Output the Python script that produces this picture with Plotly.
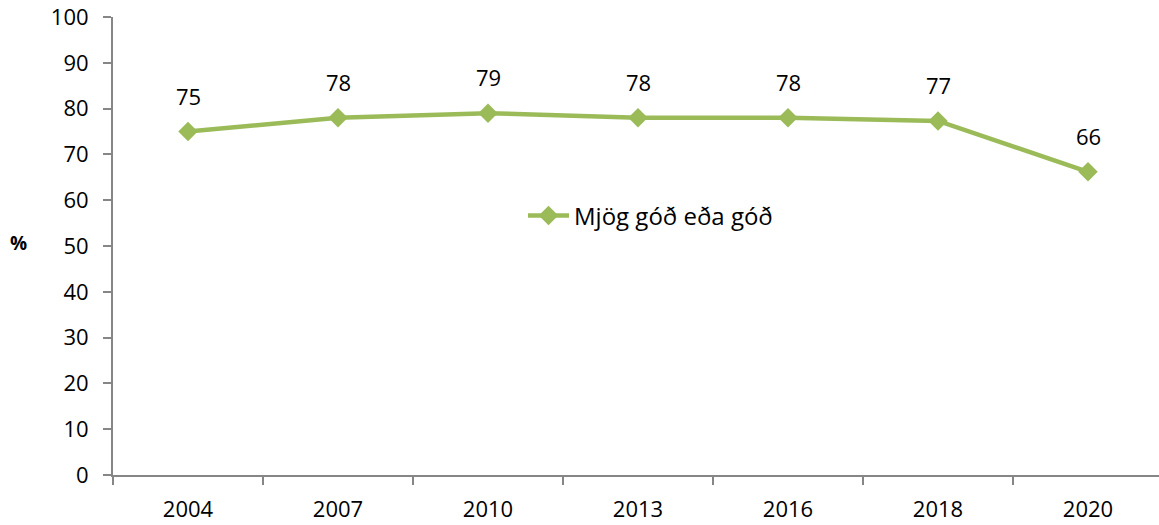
import plotly.graph_objects as go

years = ["2004", "2007", "2010", "2013", "2016", "2018", "2020"]
values = [75, 78, 79, 78, 78, 77.3, 66.2]
labels = ["75", "78", "79", "78", "78", "77", "66"]
series_name = "Mjög góð eða góð"
y_ticks = [0, 10, 20, 30, 40, 50, 60, 70, 80, 90, 100]

green = "#9BBB59"
axis_col = "#868686"
family = "Open Sans, Liberation Sans, sans-serif"
font = dict(family=family, size=22, color="#000000")

# body margin is removed by the post script, so figure coords = page coords
L, T, R, B = 113, 17, 0, 50
W, H = 1159, 525
pw, ph = W - L - R, H - T - B

fig = go.Figure()
fig.add_trace(go.Scatter(
    x=years, y=values, mode="lines+markers", name=series_name,
    line=dict(color=green, width=4.5),
    marker=dict(symbol="diamond", size=15, color=green),
))

for i, (v, t) in enumerate(zip(values, labels)):
    fig.add_annotation(x=i, y=v, text=t, showarrow=False, yshift=36,
                       font=font, xref="x", yref="y")

fig.add_annotation(x=(18 - L) / pw, y=(T + ph - 243) / ph, xref="paper", yref="paper",
                   text="<b>%</b>", showarrow=False, xanchor="center", yanchor="middle",
                   font=dict(family=family, size=19, color="#000"))

fig.update_layout(
    width=W, height=H,
    margin=dict(l=L, r=R, t=T, b=B, autoexpand=False),
    paper_bgcolor="white", plot_bgcolor="white",
    font=font,
    showlegend=True,
    legend=dict(x=(523 - L) / pw, y=(T + ph - 216) / ph, xanchor="left", yanchor="middle",
                itemwidth=41,
                bgcolor="rgba(0,0,0,0)", font=dict(family=family, size=24, color="#000")),
)

fig.update_xaxes(
    type="category", range=[-0.5, -0.5 + pw / 150], automargin=False,
    showline=True, linecolor=axis_col, linewidth=2,
    ticks="outside", tickson="boundaries", ticklen=8, tickcolor=axis_col, tickwidth=2,
    ticklabelstandoff=14,
    showgrid=False, zeroline=False, tickfont=font,
)
fig.update_yaxes(
    range=[0, 100], tickvals=y_ticks, automargin=False,
    showline=True, linecolor=axis_col, linewidth=2,
    ticks="outside", ticklen=8, tickcolor=axis_col, tickwidth=2,
    ticklabelstandoff=10, ticklabeloverflow="allow",
    showgrid=False, zeroline=False, tickfont=font,
)

fig.write_html("out.html", config={"displayModeBar": False},
               post_script="document.body.style.margin='0';")
